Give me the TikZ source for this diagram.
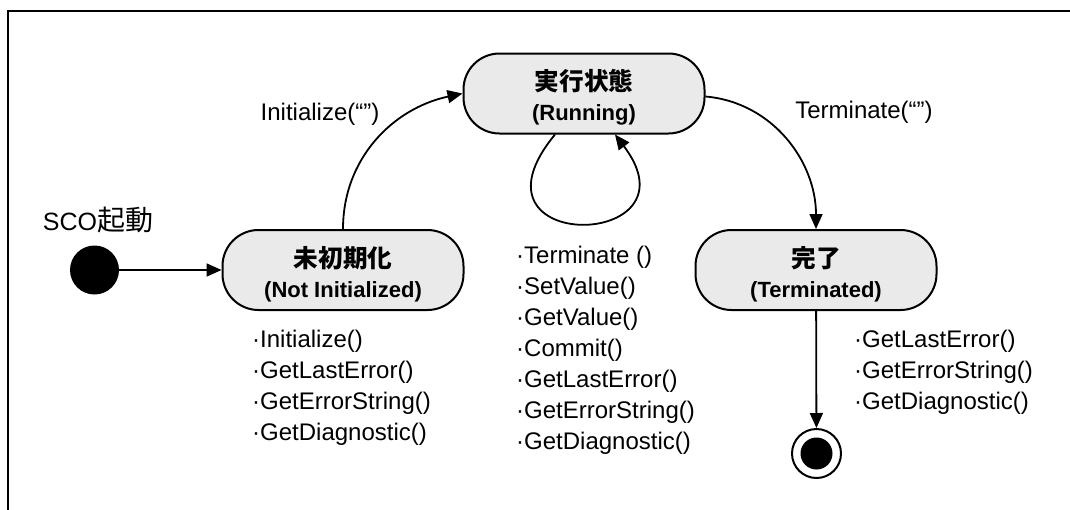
\documentclass[tikz,border=0pt]{standalone}
\usepackage{fontspec}
\setmainfont{Liberation Sans}
\newfontfamily\cjk{Noto Sans CJK JP}[Scale=1.12]
\usetikzlibrary{arrows.meta}
\newcommand{\statename}[2]{\rule{0pt}{29pt}{\cjk #1}\\#2}
\begin{document}
\begin{tikzpicture}[x=1pt,y=1pt,
    statebox/.style={draw, line width=2pt, rounded corners=36pt,
      fill={rgb, 255:red, 234; green, 234; blue, 234}, minimum width=241pt,
      minimum height=80pt, inner sep=0pt, align=center,
      font=\fontsize{22}{30}\selectfont\bfseries},
    trans/.style={line width=1.8pt, -{Triangle[length=15pt,width=13pt]}},
    methods/.style={anchor=west, inner sep=0pt, font=\fontsize{24}{31}\selectfont},
    lbl/.style={inner sep=0pt, font=\fontsize{24}{30}\selectfont}]
\useasboundingbox (0,0) rectangle (1070,-509);
% Frame
\draw [line width=2.6pt] (8,-530) -- (8,-11) -- (1090,-11);
%Start State
\node [circle, fill=black, minimum size=49pt, inner sep=0pt] (start) at (94.5,-270) {};
% Text Node
\node [lbl, font=\fontsize{25}{30}\selectfont] (sco) at (98,-220) {SCO{\cjk 起動}};
%Rounded Rect
\node [statebox] (notinit) at (343,-270) {\statename{未初期化}{(Not Initialized)}};
%Rounded Rect
\node [statebox] (running) at (584,-93.5) {\statename{実行状態}{(Running)}};
%Rounded Rect
\node [statebox] (terminated) at (816,-270) {\statename{完了}{(Terminated)}};
%End State
\node [circle, draw, line width=2pt, minimum size=49pt, inner sep=0pt] (finish) at (816.5,-453.5) {};
\node [circle, fill=black, minimum size=32pt, inner sep=0pt] (finishdot) at (finish) {};
% Transitions
\draw [trans] (start) -- (notinit);
\draw [trans] (notinit.north) to[out=90,in=192] (running.west);
\draw [trans] ([yshift=-3pt]running.east) to[out=-5,in=90] (terminated.north);
\draw [trans] ([xshift=-29pt]running.south) .. controls +(-100,-121) and +(88,-116) .. ([xshift=31pt]running.south);
\draw [trans] (terminated) -- (finish);
% Text Node
\node [lbl] (initlbl) at (320,-114) {Initialize(“”)};
% Text Node
\node [lbl] (termlbl) at (864,-112) {Terminate(“”)};
% Method lists
\foreach \m [count=\i] in {Initialize(),GetLastError(),GetErrorString(),GetDiagnostic()}
  \node [methods] (nim\i) at (252,-341-31*\i+31) {·\m};
\foreach \m [count=\i] in {Terminate (),SetValue(),GetValue(),Commit(),GetLastError(),GetErrorString(),GetDiagnostic()}
  \node [methods] (rnm\i) at (516,-257-31*\i+31) {·\m};
\foreach \m [count=\i] in {GetLastError(),GetErrorString(),GetDiagnostic()}
  \node [methods] (tmm\i) at (854,-341-31*\i+31) {·\m};
\end{tikzpicture}
\end{document}
